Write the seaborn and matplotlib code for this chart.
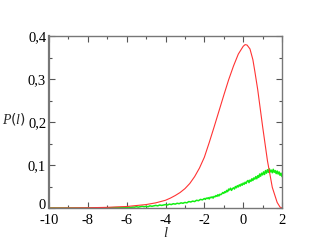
import matplotlib
matplotlib.use("Agg")
import matplotlib.pyplot as plt
import seaborn as sns
import pandas as pd
from matplotlib.ticker import MultipleLocator, FuncFormatter
from matplotlib.transforms import ScaledTranslation

# Red curve (theory)
red_l = [-10, -9, -8, -7, -6, -5, -4.5, -4, -3.75, -3.5, -3.25, -3, -2.75,
         -2.5, -2.25, -2, -1.75, -1.5, -1.25, -1, -0.75, -0.5, -0.25, 0,
         0.1, 0.2, 0.35, 0.5, 0.6, 0.75, 0.9, 1.0, 1.25, 1.5, 1.75, 1.9, 2.0]
red_p = [0.0, 0.0002, 0.0006, 0.0015, 0.0035, 0.008, 0.012, 0.018, 0.023,
         0.029, 0.036, 0.045, 0.057, 0.073, 0.093, 0.118, 0.152, 0.188, 0.225,
         0.262, 0.298, 0.330, 0.358, 0.376, 0.380, 0.379, 0.370, 0.345, 0.318,
         0.275, 0.224, 0.190, 0.110, 0.048, 0.013, 0.002, 0.0]

# Green series (simulation, noisy)
green_l = [-10, -9, -8, -7, -6.5,
           -6.0, -5.9, -5.8, -5.7, -5.6, -5.5, -5.4, -5.3, -5.2, -5.1,
           -5.0, -4.9, -4.8, -4.7, -4.6, -4.5, -4.4, -4.3, -4.2, -4.1,
           -4.0, -3.9, -3.8, -3.7, -3.6, -3.5, -3.4, -3.3, -3.2, -3.1,
           -3.0, -2.9, -2.8, -2.7, -2.6, -2.5, -2.4, -2.3, -2.2, -2.1,
           -2.00, -1.95, -1.90, -1.85, -1.80, -1.75, -1.70, -1.65, -1.60, -1.55,
           -1.50, -1.45, -1.40, -1.35, -1.30, -1.25, -1.20, -1.15, -1.10, -1.05,
           -1.00, -0.95, -0.90, -0.85, -0.80, -0.75, -0.70, -0.65, -0.60, -0.55,
           -0.50, -0.45, -0.40, -0.35, -0.30, -0.25, -0.20, -0.15, -0.10, -0.05,
           0.00, 0.05, 0.10, 0.15, 0.20, 0.25, 0.30, 0.35, 0.40, 0.45,
           0.50, 0.55, 0.60, 0.65, 0.70, 0.75, 0.80, 0.85, 0.90, 0.95,
           1.00, 1.05, 1.10, 1.15, 1.20, 1.25, 1.30, 1.35, 1.40, 1.45,
           1.50, 1.55, 1.60, 1.65, 1.70, 1.75, 1.80, 1.85, 1.90, 1.95, 2.00]
green_p = [0.0, 0.0, 0.0, 0.0005, 0.001,
           0.001, 0.002, 0.001, 0.002, 0.002, 0.003, 0.002, 0.003, 0.004, 0.003,
           0.004, 0.003, 0.005, 0.004, 0.005, 0.006, 0.005, 0.007, 0.006, 0.007,
           0.008, 0.007, 0.009, 0.008, 0.010, 0.009, 0.011, 0.010, 0.012, 0.011,
           0.013, 0.012, 0.015, 0.014, 0.016, 0.015, 0.018, 0.017, 0.020, 0.019,
           0.022, 0.020, 0.023, 0.022, 0.024, 0.021, 0.025, 0.024, 0.026, 0.023,
           0.027, 0.026, 0.029, 0.027, 0.031, 0.028, 0.032, 0.031, 0.033, 0.036,
           0.034, 0.038, 0.036, 0.041, 0.038, 0.044, 0.042, 0.046, 0.041, 0.045,
           0.047, 0.044, 0.050, 0.047, 0.052, 0.049, 0.054, 0.051, 0.056, 0.053,
           0.058, 0.055, 0.060, 0.057, 0.062, 0.064, 0.059, 0.065, 0.062, 0.068,
           0.064, 0.070, 0.067, 0.073, 0.068, 0.075, 0.071, 0.079, 0.074, 0.081,
           0.077, 0.084, 0.078, 0.087, 0.081, 0.089, 0.083, 0.091, 0.084, 0.088,
           0.082, 0.090, 0.083, 0.087, 0.080, 0.086, 0.079, 0.084, 0.076, 0.081,
           0.073]

x_ticks = [-10, -8, -6, -4, -2, 0, 2]
y_ticks = [0, 0.1, 0.2, 0.3, 0.4]

sns.set_style("ticks")
plt.rcParams['font.family'] = ['Liberation Serif', 'DejaVu Serif']
plt.rcParams['mathtext.fontset'] = 'custom'
plt.rcParams['mathtext.it'] = 'Liberation Serif:italic'

fig = plt.figure(figsize=(3.17, 2.45), dpi=100)
ax = fig.add_axes([0.1546, 0.151, 0.735, 0.702])

red_df = pd.DataFrame({"l": red_l, "P": red_p})
green_df = pd.DataFrame({"l": green_l, "P": green_p})
sns.lineplot(data=green_df, x="l", y="P", ax=ax, color="#11ee11", lw=1.1,
             estimator=None, sort=False)
sns.lineplot(data=red_df, x="l", y="P", ax=ax, color="#ff3333", lw=0.8,
             estimator=None, sort=False)

ax.set_xlim(-10, 2)
ax.set_ylim(0, 0.4)
ax.set_xticks(x_ticks)
ax.set_yticks(y_ticks)
ax.xaxis.set_minor_locator(MultipleLocator(1))
ax.yaxis.set_minor_locator(MultipleLocator(0.05))

def yfmt(v, pos):
    if abs(v) < 1e-9:
        return "0"
    return ("%.1f" % v).replace(".", ",")

ax.yaxis.set_major_formatter(FuncFormatter(yfmt))
ax.xaxis.set_major_formatter(FuncFormatter(lambda v, p: "%d" % v))

ax.tick_params(which="both", direction="in", top=True, right=True,
               labelsize=10.5, colors="#555555", labelcolor="black")
ax.tick_params(which="major", length=4, width=0.8)
ax.tick_params(which="minor", length=2, width=0.8)
ax.tick_params(axis="y", pad=2)
ax.tick_params(axis="x", pad=4.5)
for s in ax.spines.values():
    s.set_color("#777777")
    s.set_linewidth(1.0)
ax.spines["left"].set_linewidth(1.6)

# nudge the y "0" label slightly up so it only touches "-10" as in the reference
fig.canvas.draw()
zero_lbl = ax.get_yticklabels()[0]
zero_lbl.set_transform(zero_lbl.get_transform() + ScaledTranslation(0, 3 / 72, fig.dpi_scale_trans))

ax.set_xlabel("$l$", fontsize=10.5, labelpad=-1)
ax.set_ylabel("$P(l)$", fontsize=10, rotation=0)
ax.yaxis.set_label_coords(-0.15, 0.47)

fig.savefig("out.png", dpi=100)
